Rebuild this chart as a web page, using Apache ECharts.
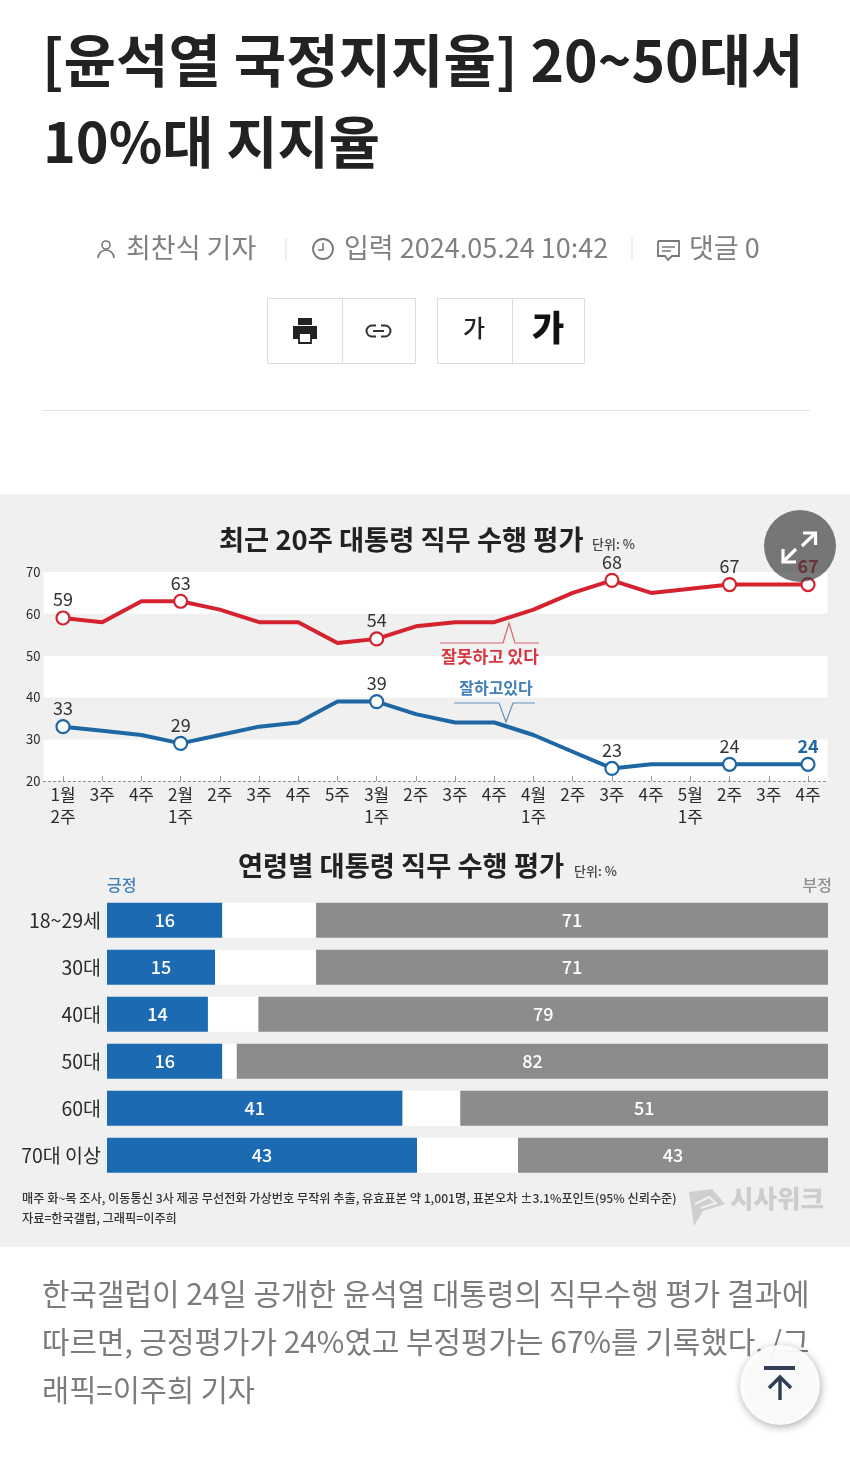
<!DOCTYPE html>
<html>
<head>
<meta charset="utf-8">
<title>윤석열 국정지지율</title>
<style>
html,body{margin:0;padding:0;background:#fff;}
#main{width:850px;height:1477px;}
</style>
<script src="https://cdn.jsdelivr.net/npm/echarts@6/dist/echarts.min.js"></script>
</head>
<body>
<div id="main"></div>
<script>
var weeks = ['1월\n2주','3주','4주','2월\n1주','2주','3주','4주','5주','3월\n1주','2주','3주','4주','4월\n1주','2주','3주','4주','5월\n1주','2주','3주','4주'];
var negativeTrend = [59,58,63,63,61,58,58,53,54,57,58,58,61,65,68,65,66,67,67,67];
var positiveTrend = [33,32,31,29,31,33,34,39,39,36,34,34,31,27,23,24,24,24,24,24];
var markedWeeks = [0,3,8,14,17,19];

var ages = ['18~29세','30대','40대','50대','60대','70대 이상'];
var positiveByAge = [16,15,14,16,41,43];
var negativeByAge = [71,71,79,82,51,43];

var FONT = '"Noto Sans CJK KR","Noto Sans",sans-serif';
var RED = '#d4232f', BLUE = '#1f67a4', GRAY = '#8c8c8c', INK = '#2b2b2b';

function text(x, y, str, size, color, weight, align){
	return {
		type:'text', x:x, y:y, z:5,
		style:{text:str, font:(weight||400)+' '+size+'px '+FONT, fill:color, align:align||'left', verticalAlign:'middle'}
	};
}
function stroked(type, shape, color, width){
	return {type:type, shape:shape, z:5, style:{fill:'none', stroke:color, lineWidth:width||1}};
}
function box(x, y, w, h, fill, stroke){
	return {type:'rect', shape:{x:x,y:y,width:w,height:h}, z:4, style:{fill:fill, stroke:stroke||'none', lineWidth:1}};
}
function line(x1, y1, x2, y2, color, width){
	return stroked('line', {x1:x1,y1:y1,x2:x2,y2:y2}, color, width);
}
function expandArrow(points){
	return {type:'polyline', shape:{points:points}, z:21, style:{fill:'none', stroke:'#fff', lineWidth:3.2}};
}

// 기사 화면 요소 (그래프 바깥)
var chrome = [
	{type:'rect', shape:{x:0,y:494,width:850,height:753}, z:-10, style:{fill:'#f0f0f0'}},

	text(42, 60, '[윤석열 국정지지율] 20~50대서', 57, '#222', 700),
	text(43, 142, '10%대 지지율', 55.7, '#222', 700),

	// 작성자 줄
	stroked('circle', {cx:106,cy:245,r:4}, '#777', 1.6),
	stroked('arc', {cx:106,cy:258,r:8,startAngle:Math.PI,endAngle:Math.PI*2}, '#777', 1.6),
	text(126, 248, '최찬식 기자', 27, '#808080'),
	line(286, 238, 286, 260, '#ddd', 1),
	stroked('circle', {cx:323,cy:249,r:10}, '#777', 1.8),
	stroked('polyline', {points:[[323,243],[323,250],[318,250]]}, '#777', 1.6),
	text(344, 248, '입력 2024.05.24 10:42', 27, '#808080'),
	line(632, 238, 632, 260, '#ddd', 1),
	stroked('polyline', {points:[[658,241],[679,241],[679,256],[672,256],[668,260],[665,256],[658,256],[658,241]]}, '#777', 1.8),
	line(662, 247, 675, 247, '#777', 1.5),
	line(662, 251, 671, 251, '#777', 1.5),
	text(689, 248, '댓글 0', 27, '#808080'),

	// 인쇄, 링크, 글자 크기 버튼
	box(267.5, 298.5, 148, 65, '#fff', '#ddd'),
	line(342.5, 299, 342.5, 363, '#ddd', 1),
	box(437.5, 298.5, 147, 65, '#fff', '#ddd'),
	line(512.5, 299, 512.5, 363, '#ddd', 1),
	box(293, 326, 24, 13, '#222'),
	box(298, 318, 14, 7, '#222'),
	{type:'rect', shape:{x:299,y:333,width:12,height:10}, z:5, style:{fill:'#fff', stroke:'#222', lineWidth:1.8}},
	stroked('arc', {cx:372,cy:331,r:5.5,startAngle:Math.PI/2,endAngle:Math.PI*1.5,clockwise:true}, '#333', 2),
	stroked('arc', {cx:385,cy:331,r:5.5,startAngle:-Math.PI/2,endAngle:Math.PI/2,clockwise:true}, '#333', 2),
	line(372, 325.5, 376, 325.5, '#333', 2),
	line(372, 336.5, 376, 336.5, '#333', 2),
	line(381, 325.5, 385, 325.5, '#333', 2),
	line(381, 336.5, 385, 336.5, '#333', 2),
	line(373, 331, 384, 331, '#333', 2),
	text(474, 328, '가', 24, '#222', 500, 'center'),
	text(548, 328, '가', 35, '#111', 900, 'center'),
	line(42, 410.5, 810, 410.5, '#e3e3e3', 1),

	// 그래프 제목
	text(219, 540, '최근 20주 대통령 직무 수행 평가', 27.3, '#222', 700),
	text(592, 544, '단위: %', 13, '#444', 500),
	text(238, 866, '연령별 대통령 직무 수행 평가', 27.3, '#222', 700),
	text(574, 871, '단위: %', 13, '#444', 500),
	text(107, 885, '긍정', 16, '#3f7fb8', 500),
	text(832, 885, '부정', 16, '#8f8f8f', 500, 'right'),

	// 범례 말풍선
	stroked('polyline', {points:[[440,643],[503,643],[509,623],[515,643],[539,643]]}, '#d9656b', 1.2),
	text(490, 657, '잘못하고 있다', 17, '#d8353f', 700, 'center'),
	text(496, 688, '잘하고있다', 16, '#3f7fb8', 700, 'center'),
	stroked('polyline', {points:[[454,703],[499,703],[506,722],[513,703],[535,703]]}, '#5d93c2', 1.2),

	// 출처
	text(22, 1198, '매주 화~목 조사, 이동통신 3사 제공 무선전화 가상번호 무작위 추출, 유효표본 약 1,001명, 표본오차 ±3.1%포인트(95% 신뢰수준)', 12.2, '#333', 500),
	text(22, 1218, '자료=한국갤럽, 그래픽=이주희', 12.2, '#333', 500),
	{type:'polygon', shape:{points:[[689,1192],[712,1189],[725,1204],[703,1211],[694,1226],[692,1212]]}, z:4, style:{fill:'#cfcfcf'}},
	stroked('polyline', {points:[[695,1204],[709,1197],[716,1203],[701,1208]]}, '#f0f0f0', 2),
	text(730, 1198, '시사위크', 25.5, '#cdcdcd', 800),

	// 본문
	text(42, 1294, '한국갤럽이 24일 공개한 윤석열 대통령의 직무수행 평가 결과에', 29.9, '#7c7c7c'),
	text(42, 1342, '따르면, 긍정평가가 24%였고 부정평가는 67%를 기록했다. /그', 29.9, '#7c7c7c'),
	text(42, 1390, '래픽=이주희 기자', 29.5, '#7c7c7c'),

	// 맨 위로 버튼
	{type:'circle', shape:{cx:780,cy:1385,r:40}, z:8, style:{fill:'rgba(255,255,255,.93)', shadowBlur:8, shadowColor:'rgba(0,0,0,.35)', shadowOffsetX:1, shadowOffsetY:2}},
	{type:'line', shape:{x1:764,y1:1368,x2:795,y2:1368}, z:9, style:{stroke:'#2f3e55', lineWidth:4}},
	{type:'line', shape:{x1:780,y1:1400,x2:780,y2:1378}, z:9, style:{stroke:'#2f3e55', lineWidth:3.4}},
	{type:'polyline', shape:{points:[[769,1388],[780,1377],[791,1388]]}, z:9, style:{fill:'none', stroke:'#2f3e55', lineWidth:3.4}},

	// 이미지 확대 버튼
	{type:'circle', shape:{cx:800,cy:546,r:36}, z:20, style:{fill:'rgba(60,60,60,.68)'}},
	expandArrow([[803,533],[815.5,533],[815.5,545]]),
	expandArrow([[815,533.5],[802,546]]),
	expandArrow([[783,549],[783,562],[796,562]]),
	expandArrow([[783.5,561.5],[796,549]])
];

function trendData(values, color, lastColor){
	return values.map(function(v, i){
		var marked = markedWeeks.indexOf(i) >= 0;
		var last = i === values.length - 1;
		return {
			value:v,
			symbol: marked ? 'circle' : 'none',
			symbolSize:13,
			itemStyle:{color:'#fff', borderColor:color, borderWidth:2.2},
			label:{
				show:marked,
				position:'top',
				distance:2,
				formatter:'{c}',
				fontFamily:FONT,
				fontSize:18,
				fontWeight:last ? 700 : 400,
				color:last ? lastColor : '#333'
			}
		};
	});
}

var gapByAge = positiveByAge.map(function(v, i){ return 100 - v - negativeByAge[i]; });

function barLabel(){
	return {show:true, position:'inside', color:'#fff', fontFamily:FONT, fontSize:18, fontWeight:500};
}

var chart = echarts.init(document.getElementById('main'), null, {renderer:'canvas'});
chart.setOption({
	animation:false,
	backgroundColor:'#fff',
	textStyle:{fontFamily:FONT},
	graphic:chrome,
	grid:[
		{left:43.4, right:22.4, top:572, height:209},
		{left:107, right:22, top:896.7, height:282}
	],
	xAxis:[{
		type:'category',
		gridIndex:0,
		data:weeks,
		axisLine:{lineStyle:{color:'#888', type:[2,3], width:1}},
		axisTick:{show:true, inside:true, alignWithLabel:true, length:5, lineStyle:{color:'#999'}},
		axisLabel:{interval:0, color:INK, fontSize:17, lineHeight:22, margin:3, fontFamily:FONT},
		splitLine:{show:false}
	},{
		type:'value',
		gridIndex:1,
		min:0,
		max:100,
		show:false
	}],
	yAxis:[{
		type:'value',
		gridIndex:0,
		min:20,
		max:70,
		interval:10,
		axisLine:{show:false},
		axisTick:{show:false},
		axisLabel:{color:INK, fontSize:13, margin:3, padding:[5,0,0,0], fontFamily:FONT},
		splitLine:{show:false},
		splitArea:{show:true, areaStyle:{color:['#fff','#f0f0f0']}}
	},{
		type:'category',
		gridIndex:1,
		inverse:true,
		data:ages,
		axisLine:{show:false},
		axisTick:{show:false},
		axisLabel:{color:INK, fontSize:19.5, margin:6, fontFamily:FONT}
	}],
	series:[{
		name:'잘못하고 있다',
		type:'line',
		xAxisIndex:0,
		yAxisIndex:0,
		showSymbol:true,
		data:trendData(negativeTrend, RED, '#c0202b'),
		lineStyle:{color:RED, width:4},
		z:3
	},{
		name:'잘하고있다',
		type:'line',
		xAxisIndex:0,
		yAxisIndex:0,
		showSymbol:true,
		data:trendData(positiveTrend, BLUE, BLUE),
		lineStyle:{color:BLUE, width:4},
		z:3
	},{
		name:'긍정',
		type:'bar',
		stack:'age',
		xAxisIndex:1,
		yAxisIndex:1,
		barWidth:35,
		data:positiveByAge,
		itemStyle:{color:'#1c6ab2'},
		label:barLabel()
	},{
		name:'모름',
		type:'bar',
		stack:'age',
		xAxisIndex:1,
		yAxisIndex:1,
		barWidth:35,
		data:gapByAge,
		itemStyle:{color:'#fff'}
	},{
		name:'부정',
		type:'bar',
		stack:'age',
		xAxisIndex:1,
		yAxisIndex:1,
		barWidth:35,
		data:negativeByAge,
		itemStyle:{color:GRAY},
		label:barLabel()
	}]
});
</script>
</body>
</html>
